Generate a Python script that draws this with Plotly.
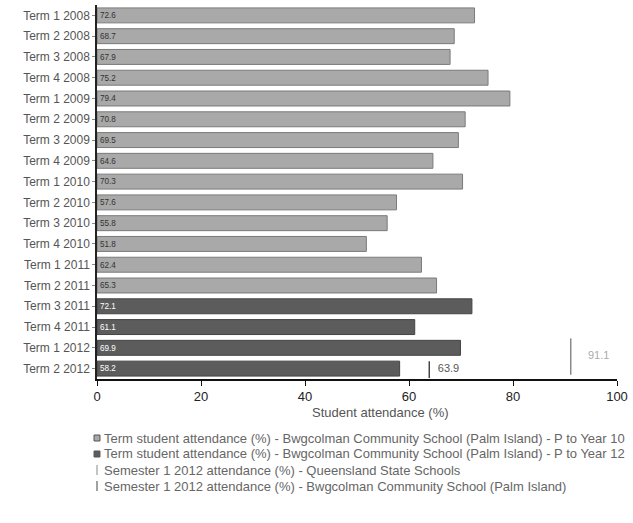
import plotly.graph_objects as go

# Term attendance at Bwgcolman Community School (Palm Island)
terms_p10 = [
    "Term 1 2008", "Term 2 2008", "Term 3 2008", "Term 4 2008",
    "Term 1 2009", "Term 2 2009", "Term 3 2009", "Term 4 2009",
    "Term 1 2010", "Term 2 2010", "Term 3 2010", "Term 4 2010",
    "Term 1 2011", "Term 2 2011",
]
attendance_p10 = [72.6, 68.7, 67.9, 75.2, 79.4, 70.8, 69.5, 64.6,
                  70.3, 57.6, 55.8, 51.8, 62.4, 65.3]

terms_p12 = ["Term 3 2011", "Term 4 2011", "Term 1 2012", "Term 2 2012"]
attendance_p12 = [72.1, 61.1, 69.9, 58.2]

# Semester 1 2012 reference values
sem_qld = 91.1
sem_bwg = 63.9

x_ticks = [0, 20, 40, 60, 80, 100]

name_p10 = "Term student attendance (%) - Bwgcolman Community School (Palm Island) - P to Year 10"
name_p12 = "Term student attendance (%) - Bwgcolman Community School (Palm Island) - P to Year 12"
name_qld = "Semester 1 2012 attendance (%) - Queensland State Schools"
name_bwg = "Semester 1 2012 attendance (%) - Bwgcolman Community School (Palm Island)"

color_p10 = "#a9a9a9"
color_p12 = "#5c5c5c"
color_qld = "#888888"
color_bwg = "#444444"

font_family = "Liberation Sans, Arial, sans-serif"

W, H = 633, 523
M_L, M_R, M_T, M_B = 97, 11, 5, 144
plot_w = W - M_L - M_R
plot_h = H - M_T - M_B


def px_x(px):
    return (px - M_L) / plot_w


def px_y(py):
    return (H - M_B - py) / plot_h


fig = go.Figure()

fig.add_trace(go.Bar(
    y=terms_p10, x=attendance_p10, orientation="h", name=name_p10,
    marker=dict(color=color_p10, line=dict(color="#7a7a7a", width=1)),
    texttemplate="%{x:.1f}", textposition="inside", insidetextanchor="start",
    textfont=dict(size=10, color="#333333", family=font_family),
))
fig.add_trace(go.Bar(
    y=terms_p12, x=attendance_p12, orientation="h", name=name_p12,
    marker=dict(color=color_p12, line=dict(color="#444444", width=1)),
    texttemplate="%{x:.1f}", textposition="inside", insidetextanchor="start",
    textfont=dict(size=10, color="#ffffff", family=font_family),
))

# Semester markers on a hidden overlay axis
fig.add_trace(go.Scatter(
    x=[sem_qld], y=[0.06], yaxis="y2", mode="markers+text", name=name_qld,
    marker=dict(symbol="line-ns", size=26, line=dict(color=color_qld, width=1.5)),
    text=[f"{sem_qld:.1f}"], textposition="middle right",
    textfont=dict(size=11, color="#aaaaaa", family=font_family),
))
fig.add_trace(go.Scatter(
    x=[sem_bwg], y=[0.025], yaxis="y2", mode="markers+text", name=name_bwg,
    marker=dict(symbol="line-ns", size=12, line=dict(color=color_bwg, width=1.5)),
    text=[f"{sem_bwg:.1f}"], textposition="middle right",
    textfont=dict(size=11, color="#555555", family=font_family),
))

# Compact legend drawn beneath the axis title
legend_rows = [
    (name_p10, "square", color_p10),
    (name_p12, "square", color_p12),
    (name_qld, "line", color_qld),
    (name_bwg, "line", color_bwg),
]
row_top, row_step = 438, 16
annotations = [dict(
    text="Student attendance (%)", xref="paper", yref="paper",
    x=px_x(383), y=px_y(413), xanchor="center", yanchor="middle",
    showarrow=False, font=dict(size=13, color="#555555"),
)]
shapes = []
for i, (label, kind, col) in enumerate(legend_rows):
    cy = row_top + i * row_step
    annotations.append(dict(
        text=label, xref="paper", yref="paper", x=px_x(102), y=px_y(cy),
        xanchor="left", yanchor="middle", showarrow=False,
        font=dict(size=13, color="#666666"),
    ))
    if kind == "square":
        shapes.append(dict(
            type="rect", xref="paper", yref="paper",
            x0=px_x(94), x1=px_x(100), y0=px_y(cy + 3), y1=px_y(cy - 3),
            fillcolor=col, line=dict(color="#555555", width=1),
        ))
    else:
        shapes.append(dict(
            type="line", xref="paper", yref="paper",
            x0=px_x(97), x1=px_x(97), y0=px_y(cy + 5), y1=px_y(cy - 5),
            line=dict(color=col, width=1),
        ))

fig.update_layout(
    width=W, height=H,
    margin=dict(l=M_L, r=M_R, t=M_T, b=M_B),
    paper_bgcolor="white", plot_bgcolor="white",
    barmode="overlay", bargap=0.28,
    font=dict(family=font_family, size=11, color="#444444"),
    xaxis=dict(
        range=[0, 100], tickvals=x_ticks, showgrid=False, zeroline=False,
        showline=True, linecolor="#111111", linewidth=1.5,
        ticks="outside", ticklen=5, tickcolor="#111111",
        tickfont=dict(size=13, color="#222222"),
    ),
    yaxis=dict(
        categoryorder="array", categoryarray=terms_p10 + terms_p12,
        autorange="reversed", showgrid=False, zeroline=False,
        showline=True, linecolor="#222222", linewidth=1.5,
        ticks="outside", ticklen=3, tickcolor="#888888",
        tickfont=dict(size=12, color="#555555"),
    ),
    yaxis2=dict(overlaying="y", range=[0, 1], visible=False),
    showlegend=False,
    annotations=annotations,
    shapes=shapes,
)

fig.write_html("out.html")
